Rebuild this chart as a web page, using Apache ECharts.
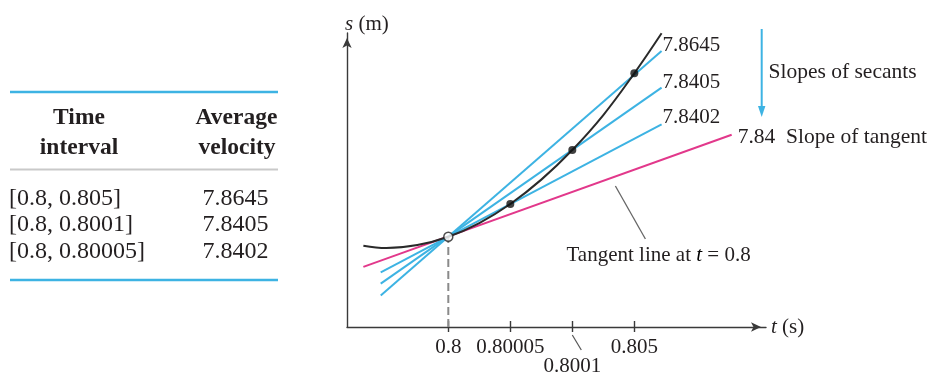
<!DOCTYPE html>
<html>
<head>
<meta charset="utf-8">
<script src="https://cdn.jsdelivr.net/npm/echarts@6/dist/echarts.min.js"></script>
<style>html,body{margin:0;padding:0;background:#fff;}#c{width:930px;height:373px;}</style>
</head>
<body>
<div id="c"></div>
<script>
// ---- data ----
const tickPos = [0, 1, 2, 3];
const tickLabels = ['0.8', '0.80005', '0.8001', '0.805'];
const intervals = ['[0.8, 0.805]', '[0.8, 0.8001]', '[0.8, 0.80005]'];
const velocities = ['7.8645', '7.8405', '7.8402'];
const tangentSlope = '7.84';
const curveX = [-1.37, -1.0, -0.5, 0, 0.5, 1, 1.5, 2, 2.5, 3, 3.44];
const curveY = [1.311, 1.273, 1.321, 1.456, 1.677, 1.984, 2.377, 2.855, 3.419, 4.092, 4.737];
const pointX = [0, 1, 2, 3];
const pointY = [1.456, 1.984, 2.855, 4.092];
const secantX = [-1.09, 3.44];
const secantY = [[0.51, 4.45], [0.70, 3.86], [0.88, 3.27]];
const tangentX = [-1.37, 4.57];
const tangentY = [0.97, 3.10];
const leaderTangentX = [2.695, 3.179];
const leaderTangentY = [2.274, 1.419];
const leaderTickX = [2.0, 2.145];
const leaderTickY = [-0.129, -0.371];

const FONT = 'Liberation Serif';
const TXT = '#231f20';
const BLUE = '#3db3e3';
const PINK = '#e2388b';

const chart = echarts.init(document.getElementById('c'), null, {renderer: 'canvas'});

const secantLabelOffsets = [[0, -6], [0, -5], [0, -7]];
const series = [];
series.push({
  type: 'line', data: tangentX.map((x, i) => [x, tangentY[i]]),
  showSymbol: false, symbol: 'none', silent: true, z: 2,
  lineStyle: {color: PINK, width: 2},
  endLabel: {show: true, formatter: tangentSlope + '  Slope of tangent', distance: 6, offset: [0, 3],
    fontFamily: FONT, fontSize: 21.5, color: TXT}
});
secantY.forEach((ys, k) => {
  series.push({
    type: 'line', data: secantX.map((x, i) => [x, ys[i]]),
    showSymbol: false, symbol: 'none', silent: true, z: 3,
    lineStyle: {color: BLUE, width: 2},
    endLabel: {show: true, formatter: velocities[k], distance: 1, offset: secantLabelOffsets[k],
      fontFamily: FONT, fontSize: 21, color: TXT}
  });
});
series.push({
  type: 'line', data: curveX.map((x, i) => [x, curveY[i]]), smooth: 0.4,
  showSymbol: false, symbol: 'none', silent: true, z: 4,
  lineStyle: {color: '#2a2a2a', width: 2}
});
series.push({
  type: 'line', data: [[pointX[0], 0], [pointX[0], pointY[0]]],
  showSymbol: false, symbol: 'none', silent: true, z: 3,
  lineStyle: {color: '#8a8a8a', width: 2, type: [8, 4]}
});
series.push({
  type: 'line', data: leaderTangentX.map((x, i) => [x, leaderTangentY[i]]),
  showSymbol: false, symbol: 'none', silent: true, z: 3,
  lineStyle: {color: '#666', width: 1.3}
});
series.push({
  type: 'line', data: leaderTickX.map((x, i) => [x, leaderTickY[i]]), clip: false,
  showSymbol: false, symbol: 'none', silent: true, z: 3,
  lineStyle: {color: '#555', width: 1.2}
});
series.push({
  type: 'scatter', data: pointX.slice(1).map((x, i) => [x, pointY[i + 1]]),
  symbolSize: 8, silent: true, z: 6, itemStyle: {color: '#111'}
});
series.push({
  type: 'scatter', data: [[pointX[0], pointY[0]]],
  symbolSize: 9, silent: true, z: 7, itemStyle: {color: '#fff', borderColor: '#222', borderWidth: 1.5}
});

const graphic = [];
// table lines
graphic.push({type: 'line', shape: {x1: 10, y1: 92, x2: 278, y2: 92}, style: {stroke: BLUE, lineWidth: 2.5}});
graphic.push({type: 'line', shape: {x1: 10, y1: 169.5, x2: 278, y2: 169.5}, style: {stroke: '#c9c9c9', lineWidth: 2}});
graphic.push({type: 'line', shape: {x1: 10, y1: 280, x2: 278, y2: 280}, style: {stroke: BLUE, lineWidth: 2.5}});
const TF = 24;
const hdr = (t, x, y) => ({type: 'text', x: x, y: y, style: {text: t, fontFamily: FONT, fontSize: 23.5, fontWeight: 'bold',
  fill: TXT, align: 'center', verticalAlign: 'middle'}});
graphic.push(hdr('Time', 79, 118), hdr('interval', 79, 148), hdr('Average', 236.5, 118), hdr('velocity', 237, 148));
const rowY = [198.5, 225, 251.5];
intervals.forEach((t, i) => {
  graphic.push({type: 'text', x: 9, y: rowY[i], style: {text: t, fontFamily: FONT, fontSize: TF, fill: TXT,
    align: 'left', verticalAlign: 'middle'}});
  graphic.push({type: 'text', x: 268.5, y: rowY[i], style: {text: velocities[i], fontFamily: FONT, fontSize: TF, fill: TXT,
    align: 'right', verticalAlign: 'middle'}});
});
// secant arrow + annotation
graphic.push({type: 'line', shape: {x1: 761.7, y1: 29, x2: 761.7, y2: 108}, style: {stroke: BLUE, lineWidth: 2}});
graphic.push({type: 'polygon', shape: {points: [[758, 106], [765.4, 106], [761.7, 117]]}, style: {fill: BLUE}});
graphic.push({type: 'text', x: 768.5, y: 72, style: {text: 'Slopes of secants', fontFamily: FONT, fontSize: 21.5, fill: TXT,
  align: 'left', verticalAlign: 'middle'}});
graphic.push({type: 'text', x: 566.5, y: 255.7, style: {
  text: '{n|Tangent line at }{i|t}{n| = 0.8}', align: 'left', verticalAlign: 'middle',
  rich: {n: {fontFamily: FONT, fontSize: 21, fill: TXT, color: TXT}, i: {fontFamily: FONT, fontSize: 21, fontStyle: 'italic', color: TXT}}
}});

chart.setOption({
  animation: false,
  backgroundColor: '#fff',
  textStyle: {fontFamily: FONT},
  grid: {left: 347, top: 33, width: 419, height: 294, containLabel: false, outerBoundsMode: 'none'},
  xAxis: [{
    type: 'value', min: -1.634, max: 5.124, position: 'bottom',
    splitLine: {show: false},
    axisLine: {show: true, onZero: false, symbol: ['none', 'arrow'], symbolSize: [7, 10], symbolOffset: [0, -5],
      lineStyle: {color: '#3a3a3a', width: 1.4}},
    axisTick: {show: true, inside: true, length: 6, customValues: tickPos, lineStyle: {color: '#3a3a3a', width: 1.4}},
    axisLabel: {show: true, customValues: tickPos, margin: 11, fontFamily: FONT, fontSize: 21, color: TXT, lineHeight: 19,
      formatter: (v) => { const i = tickPos.indexOf(v); const s = i >= 0 ? tickLabels[i] : ''; return i === 2 ? '\n' + s : s; }},
    name: '{i|t} (s)', nameLocation: 'end', nameGap: 5,
    nameTextStyle: {fontFamily: FONT, fontSize: 21, color: TXT, align: 'left', verticalAlign: 'middle',
      rich: {i: {fontFamily: FONT, fontSize: 21, fontStyle: 'italic', color: TXT}}}
  }, {
    type: 'value', min: -1.634, max: 5.124, position: 'bottom', offset: 0,
    splitLine: {show: false}, axisLine: {show: false}, axisLabel: {show: false},
    axisTick: {show: true, inside: false, length: 5, customValues: tickPos, lineStyle: {color: '#3a3a3a', width: 1.4}}
  }],
  yAxis: {
    type: 'value', min: 0, max: 4.742,
    splitLine: {show: false}, axisTick: {show: false}, axisLabel: {show: false},
    axisLine: {show: true, onZero: false, symbol: ['none', 'arrow'], symbolSize: [7, 10], symbolOffset: [0, -5],
      lineStyle: {color: '#3a3a3a', width: 1.4}},
    name: '{i|s} (m)', nameLocation: 'end', nameGap: 9,
    nameTextStyle: {fontFamily: FONT, fontSize: 21, color: TXT, align: 'left', verticalAlign: 'middle', padding: [0, 0, 0, -2],
      rich: {i: {fontFamily: FONT, fontSize: 21, fontStyle: 'italic', color: TXT}}}
  },
  series: series,
  graphic: graphic
});
</script>
</body>
</html>
